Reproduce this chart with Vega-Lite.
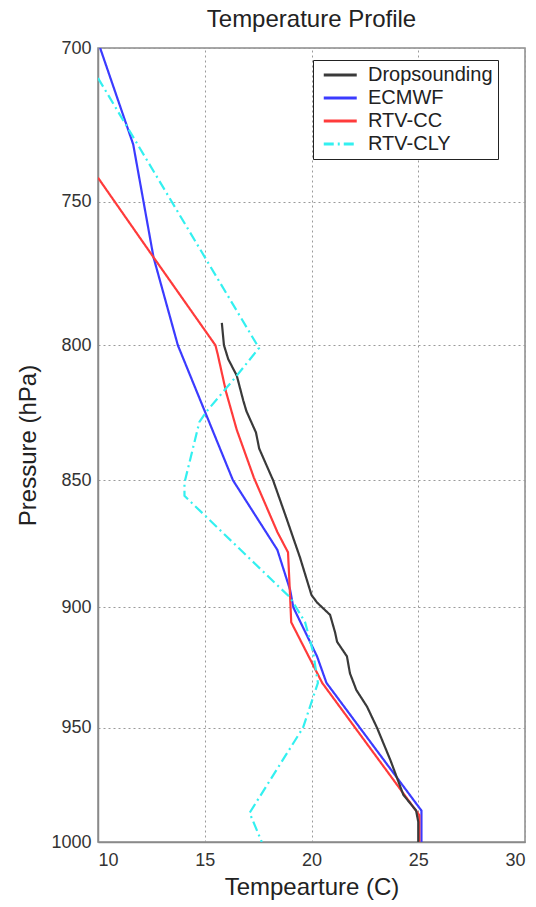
{
  "$schema": "https://vega.github.io/schema/vega-lite/v6.json",
  "width": 427,
  "height": 794,
  "autosize": {"type": "none"},
  "padding": {"left": 98, "top": 48, "right": 11, "bottom": 65},
  "background": "white",
  "title": {"text": "Temperature Profile", "fontSize": 24, "font": "Liberation Sans", "fontWeight": "normal", "color": "#222", "offset": 7, "anchor": "middle"},
  "config": {
    "font": "Liberation Sans",
    "view": {"stroke": "#8a8a8a", "strokeWidth": 1.5},
    "axis": {
      "labelFont": "Liberation Sans", "labelFontSize": 18, "labelColor": "#333",
      "titleFont": "Liberation Sans", "titleFontSize": 24, "titleFontWeight": "normal", "titleColor": "#222",
      "domainColor": "#8a8a8a", "domainWidth": 1.5,
      "ticks": false, "labelPadding": 7,
      "gridColor": "#9a9a9a", "gridDash": [2, 3], "gridWidth": 1
    },
    "legend": {
      "orient": "none", "legendX": 215, "legendY": 12,
      "strokeColor": "#222", "fillColor": "white", "padding": 5,
      "labelFont": "Liberation Sans", "labelFontSize": 20, "labelColor": "#222",
      "symbolType": "M-1,0H3", "symbolSize": 272, "symbolStrokeWidth": 3, "symbolOffset": 4,
      "rowPadding": 3, "labelOffset": 26
    }
  },
  "data": {"values": [
    {"s": "ECMWF", "t": 10.1, "p": 700},
    {"s": "ECMWF", "t": 11.65, "p": 731},
    {"s": "ECMWF", "t": 12.6, "p": 769},
    {"s": "ECMWF", "t": 13.74, "p": 800},
    {"s": "ECMWF", "t": 16.32, "p": 850},
    {"s": "ECMWF", "t": 18.4, "p": 877},
    {"s": "ECMWF", "t": 19.0, "p": 893},
    {"s": "ECMWF", "t": 19.15, "p": 900},
    {"s": "ECMWF", "t": 20.26, "p": 920},
    {"s": "ECMWF", "t": 20.7, "p": 931},
    {"s": "ECMWF", "t": 25.15, "p": 986},
    {"s": "ECMWF", "t": 25.15, "p": 1000},

    {"s": "RTV-CC", "t": 10.0, "p": 742},
    {"s": "RTV-CC", "t": 12.6, "p": 769},
    {"s": "RTV-CC", "t": 15.5, "p": 800},
    {"s": "RTV-CC", "t": 15.6, "p": 803},
    {"s": "RTV-CC", "t": 16.0, "p": 817},
    {"s": "RTV-CC", "t": 16.5, "p": 831},
    {"s": "RTV-CC", "t": 17.3, "p": 849},
    {"s": "RTV-CC", "t": 18.4, "p": 870},
    {"s": "RTV-CC", "t": 18.9, "p": 878},
    {"s": "RTV-CC", "t": 19.0, "p": 896},
    {"s": "RTV-CC", "t": 19.05, "p": 906},
    {"s": "RTV-CC", "t": 20.5, "p": 931},
    {"s": "RTV-CC", "t": 25.05, "p": 988},
    {"s": "RTV-CC", "t": 25.05, "p": 1000},

    {"s": "Dropsounding", "t": 15.8, "p": 792},
    {"s": "Dropsounding", "t": 15.85, "p": 796},
    {"s": "Dropsounding", "t": 15.9, "p": 800},
    {"s": "Dropsounding", "t": 16.1, "p": 805},
    {"s": "Dropsounding", "t": 16.5, "p": 811},
    {"s": "Dropsounding", "t": 16.8, "p": 820},
    {"s": "Dropsounding", "t": 16.95, "p": 824},
    {"s": "Dropsounding", "t": 17.4, "p": 832},
    {"s": "Dropsounding", "t": 17.55, "p": 838},
    {"s": "Dropsounding", "t": 18.2, "p": 850},
    {"s": "Dropsounding", "t": 18.8, "p": 864},
    {"s": "Dropsounding", "t": 19.46, "p": 880},
    {"s": "Dropsounding", "t": 20.0, "p": 895},
    {"s": "Dropsounding", "t": 20.26, "p": 898},
    {"s": "Dropsounding", "t": 20.87, "p": 903},
    {"s": "Dropsounding", "t": 21.1, "p": 910},
    {"s": "Dropsounding", "t": 21.2, "p": 914},
    {"s": "Dropsounding", "t": 21.66, "p": 920},
    {"s": "Dropsounding", "t": 21.8, "p": 927},
    {"s": "Dropsounding", "t": 22.1, "p": 934},
    {"s": "Dropsounding", "t": 22.6, "p": 941},
    {"s": "Dropsounding", "t": 23.07, "p": 950},
    {"s": "Dropsounding", "t": 23.7, "p": 964},
    {"s": "Dropsounding", "t": 24.3, "p": 979},
    {"s": "Dropsounding", "t": 24.9, "p": 986},
    {"s": "Dropsounding", "t": 25.0, "p": 991},
    {"s": "Dropsounding", "t": 25.0, "p": 1000},

    {"s": "RTV-CLY", "t": 10.0, "p": 709.5},
    {"s": "RTV-CLY", "t": 17.54, "p": 801},
    {"s": "RTV-CLY", "t": 16.5, "p": 811},
    {"s": "RTV-CLY", "t": 15.1, "p": 824},
    {"s": "RTV-CLY", "t": 14.75, "p": 828},
    {"s": "RTV-CLY", "t": 14.05, "p": 851},
    {"s": "RTV-CLY", "t": 14.05, "p": 856},
    {"s": "RTV-CLY", "t": 19.0, "p": 896},
    {"s": "RTV-CLY", "t": 19.7, "p": 906},
    {"s": "RTV-CLY", "t": 20.07, "p": 918},
    {"s": "RTV-CLY", "t": 20.3, "p": 931},
    {"s": "RTV-CLY", "t": 19.6, "p": 950},
    {"s": "RTV-CLY", "t": 17.1, "p": 987},
    {"s": "RTV-CLY", "t": 17.67, "p": 1000}
  ]},
  "mark": {"type": "line", "strokeWidth": 2.2, "clip": true},
  "encoding": {
    "x": {"field": "t", "type": "quantitative",
      "scale": {"domain": [10, 30], "nice": false, "zero": false},
      "axis": {"values": [10, 15, 20, 25, 30], "title": "Tempearture (C)", "titlePadding": 6, "labelPadding": 9}},
    "y": {"field": "p", "type": "quantitative",
      "scale": {"type": "log", "domain": [700, 1000], "reverse": true, "nice": false},
      "axis": {"values": [700, 750, 800, 850, 900, 950, 1000], "format": "d", "title": "Pressure (hPa)", "titlePadding": 10}},
    "color": {"field": "s", "type": "nominal",
      "scale": {"domain": ["Dropsounding", "ECMWF", "RTV-CC", "RTV-CLY"], "range": ["#3a3a3a", "#3b3bff", "#ff3b3b", "#33f0f0"]},
      "legend": {"title": null}},
    "strokeDash": {"field": "s", "type": "nominal",
      "scale": {"domain": ["Dropsounding", "ECMWF", "RTV-CC", "RTV-CLY"], "range": [[1, 0], [1, 0], [1, 0], [10, 4, 2, 4]]},
      "legend": {"title": null}},
    "order": {"field": "p", "type": "quantitative"}
  }
}
